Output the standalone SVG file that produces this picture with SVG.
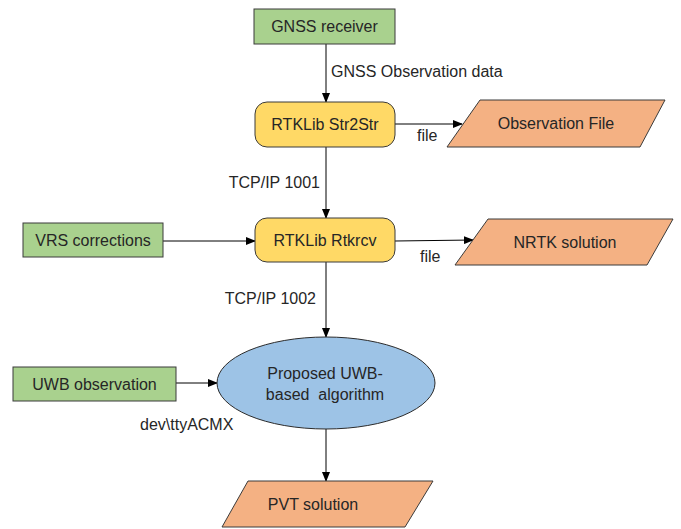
<svg xmlns="http://www.w3.org/2000/svg" width="681" height="529" viewBox="0 0 681 529">
<style>
text{font-family:"Liberation Sans",Arial,sans-serif;font-size:16px;fill:#262626}
.c{text-anchor:middle;dominant-baseline:central}
.green{fill:#A9D18E;stroke:#3b3b3b;stroke-width:1}
.yellow{fill:#FFD966;stroke:#3b3b3b;stroke-width:1}
.orange{fill:#F4B183;stroke:#3b3b3b;stroke-width:1}
.blue{fill:#9DC3E6;stroke:#2b2b2b;stroke-width:1}
.conn{stroke:#000;stroke-width:1;fill:none;marker-end:url(#arr)}
</style>
<defs>
<marker id="arr" markerWidth="10" markerHeight="8" refX="9" refY="4" orient="auto" markerUnits="userSpaceOnUse">
<path d="M0,0 L10,4 L0,8 Z" fill="#000"/>
</marker>
</defs>
<rect width="681" height="529" fill="#fff"/>
<g id="connectors">
<line class="conn" x1="326" y1="44" x2="326" y2="102"/>
<line class="conn" x1="395" y1="124" x2="462" y2="124"/>
<line class="conn" x1="326" y1="147" x2="326" y2="218"/>
<line class="conn" x1="163" y1="241" x2="255" y2="241"/>
<line class="conn" x1="395" y1="241" x2="473" y2="240"/>
<line class="conn" x1="326" y1="262" x2="326" y2="337"/>
<line class="conn" x1="176" y1="383" x2="217" y2="383"/>
<line class="conn" x1="326" y1="429" x2="326" y2="481"/>
<text x="331" y="77">GNSS Observation data</text>
<text x="417" y="141">file</text>
<text x="320" y="188" text-anchor="end">TCP/IP 1001</text>
<text x="420" y="262">file</text>
<text x="316" y="304" text-anchor="end">TCP/IP 1002</text>
<text x="140" y="430">dev\ttyACMX</text>
</g>
<g id="gnss-receiver">
<rect class="green" x="254" y="9" width="141" height="35"/>
<text class="c" x="324.5" y="26.5">GNSS receiver</text>
</g>
<g id="str2str">
<rect class="yellow" x="255" y="102" width="140" height="45" rx="12"/>
<text class="c" x="325" y="124.5">RTKLib Str2Str</text>
</g>
<g id="observation-file">
<polygon class="orange" points="480,100 665,100 640,147 447,147"/>
<text class="c" x="556" y="123.5">Observation File</text>
</g>
<g id="vrs-corrections">
<rect class="green" x="23" y="223" width="140" height="34"/>
<text class="c" x="93" y="240">VRS corrections</text>
</g>
<g id="rtkrcv">
<rect class="yellow" x="255" y="218" width="140" height="44" rx="12"/>
<text class="c" x="325" y="240">RTKLib Rtkrcv</text>
</g>
<g id="nrtk-solution">
<polygon class="orange" points="488,219 673,219 647,265 455,265"/>
<text class="c" x="565" y="242">NRTK solution</text>
</g>
<g id="uwb-observation">
<rect class="green" x="13" y="367" width="163" height="34"/>
<text class="c" x="94.5" y="384">UWB observation</text>
</g>
<g id="uwb-algorithm">
<ellipse class="blue" cx="326" cy="383" rx="109" ry="46"/>
<text class="c" x="325" y="373">Proposed UWB-</text>
<text class="c" x="325" y="394" xml:space="preserve">based  algorithm</text>
</g>
<g id="pvt-solution">
<polygon class="orange" points="248,481 433,481 405,527 222,527"/>
<text class="c" x="313" y="504">PVT solution</text>
</g>
</svg>
